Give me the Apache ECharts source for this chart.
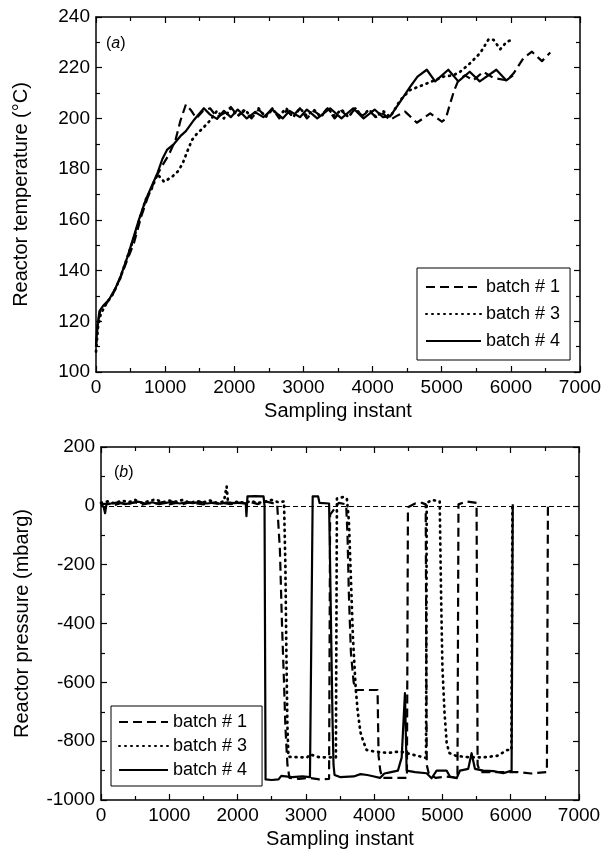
<!DOCTYPE html>
<html>
<head>
<meta charset="utf-8">
<script src="https://cdn.jsdelivr.net/npm/echarts@6/dist/echarts.min.js"></script>
<style>html,body{margin:0;padding:0;background:#fff}#c{width:603px;height:859px}</style>
</head>
<body>
<div id="c"></div>
<script>
// ---------- DATA: (a) Reactor temperature ----------
const tempB1X = [0,20,60,150,250,350,450,550,650,750,800,850,950,1050,1150,1220,1300,1380,1450,1550,1650,1750,1850,1950,2050,2150,2250,2350,2450,2550,2650,2750,2850,2950,3050,3150,3250,3350,3450,3550,3650,3750,3850,3950,4050,4150,4250,4350,4470,4640,4834,5003,5060,5123,5180,5240,5336,5457,5600,5747,5943,6040,6180,6305,6450,6570];
const tempB1Y = [110,118,124,127,131,137,144,151,161,169,172,176,181,185.5,191.5,199,205.5,203,200,203,204,200.5,202,204.5,201,203,200,203.5,201,204,200,203,201,204,200,203,201,204,200,203,200.5,204,201,203,200.5,202,199.4,201,202.7,198.3,202,198.7,200,206,211,215,217,215,218.4,216,215,217.8,223.7,226.3,222.6,226];

const tempB3X = [0,30,70,150,250,350,450,550,650,720,800,890,985,1100,1180,1250,1320,1390,1460,1540,1660,1750,1850,1950,2050,2150,2250,2350,2450,2550,2650,2750,2850,2950,3050,3150,3250,3350,3450,3550,3650,3750,3850,3950,4050,4150,4255,4400,4544,4785,5027,5166,5267,5412,5557,5678,5750,5847,5943,6040];
const tempB3Y = [108,118,123,127,131,137,145,153,162,168,172,178,175,177,179,182,187,191.6,194,196,199.5,203,200,204,201,203.5,200.5,204,200.5,203.5,201,204,200.5,204,201,203.5,200.5,204,201,203.5,200.5,204,201,203.5,200.5,203,200.6,207.2,211.2,213.8,216.5,217,218.4,221.8,225.8,231.2,231,227.3,230.3,231.2];

const tempB4X = [0,20,50,100,190,280,360,450,530,620,720,800,890,960,1030,1130,1220,1300,1420,1560,1650,1750,1850,1950,2050,2180,2300,2420,2550,2700,2800,2950,3050,3200,3386,3550,3720,3870,4030,4150,4255,4400,4545,4650,4784,4905,5095,5240,5405,5550,5790,5935,6030];
const tempB4Y = [110,118,124,126,128.6,133,138,145,152,160,168,173,178.5,184,187.7,190,193,195,199.5,204,201.5,199.8,203,200.5,203.5,200,202.5,200.5,203.5,200,203,200.5,203.5,200,204,200,204,200,203.5,200.5,200.8,206.6,212.5,216.5,219.2,214.6,219.2,214.6,218.4,214.6,219.2,215,217];

// ---------- DATA: (b) Reactor pressure ----------
const presB1X = [0,100,200,300,400,500,600,700,800,900,1000,1100,1200,1300,1400,1500,1600,1700,1800,1900,2000,2100,2200,2300,2400,2500,2580,2620,2650,2680,2700,2730,2760,2900,3050,3200,3340,3355,3420,3480,3590,3610,3630,3660,3700,3730,3900,4050,4065,4090,4120,4300,4480,4495,4600,4700,4755,4770,4800,4900,5050,5220,5235,5350,5500,5515,5550,5800,6100,6300,6530,6545];
const presB1Y = [5,8,3,10,6,12,4,9,7,13,5,10,6,12,8,5,11,7,9,6,10,8,12,6,15,10,5,-150,-400,-600,-750,-880,-925,-928,-925,-930,-928,-30,-10,10,5,-100,-300,-500,-600,-626,-626,-626,-850,-900,-925,-925,-925,-5,8,10,5,-880,-910,-925,-920,-925,5,15,10,-880,-905,-905,-905,-910,-905,0];

const presB3X = [0,100,200,300,400,500,600,700,800,900,1000,1100,1200,1300,1400,1500,1600,1700,1800,1840,1860,1900,2000,2100,2200,2300,2400,2500,2600,2680,2700,2715,2730,2745,2900,3020,3060,3200,3300,3440,3455,3550,3600,3630,3660,3690,3730,3760,3800,3840,3890,4000,4200,4378,4550,4760,4770,4850,4960,4980,5000,5030,5062,5100,5200,5400,5600,5800,5950,6010,6025];
const presB3Y = [10,15,8,18,12,20,10,16,22,12,18,14,20,10,16,12,18,10,15,66,12,8,14,10,16,10,14,20,12,15,-200,-500,-750,-853,-855,-855,-845,-855,-855,-855,25,30,25,-50,-250,-450,-620,-700,-770,-800,-830,-835,-840,-835,-845,-857,10,20,15,-300,-550,-700,-806,-840,-850,-855,-855,-850,-830,-830,5];

const presB4X = [0,40,60,80,150,250,350,450,550,650,750,850,950,1050,1150,1250,1350,1450,1550,1650,1750,1850,1950,2050,2120,2130,2145,2250,2380,2395,2410,2500,2600,2640,2800,2950,3060,3100,3180,3200,3340,3355,3375,3390,3405,3420,3500,3700,3800,3900,4000,4085,4150,4231,4348,4403,4451,4476,4600,4768,4841,4915,5061,5110,5208,5257,5378,5427,5476,5598,5750,5891,6013,6030];
const presB4Y = [5,-5,-25,5,8,12,6,10,14,8,12,6,10,14,8,12,9,14,8,11,7,12,9,11,8,-35,32,33,32,0,-930,-932,-930,-918,-922,-920,-922,32,32,10,8,-200,-500,-720,-880,-915,-922,-920,-912,-915,-920,-925,-910,-906,-900,-856,-637,-900,-905,-909,-926,-900,-900,-920,-926,-900,-894,-841,-894,-900,-902,-909,-900,5];

const seriesNames = ['batch # 1','batch # 3','batch # 4'];
const xTicks = {min:0, max:7000, interval:1000};
const tempTicks = {min:100, max:240, interval:20};
const presTicks = {min:-1000, max:200, interval:200};

// ---------- build ----------
const zip = (xs, ys) => xs.map((x, i) => [x, ys[i]]);
const FONT = 'Liberation Sans, Arial, sans-serif';
const styles = [
  {type:[9,5], width:2.2, cap:'butt'},
  {type:[1,5], width:2.7, cap:'round'},
  {type:'solid', width:2.2, cap:'butt'}
];

function mkAxis(kind, pos, grid, ticks, showLabel, extra) {
  return Object.assign({
    type:'value', gridIndex:grid, position:pos,
    min:ticks.min, max:ticks.max, interval:ticks.interval,
    axisLine:{show:true, onZero:false, lineStyle:{color:'#000', width:1.5}},
    axisTick:{show:true, inside:true, length:6, lineStyle:{color:'#000', width:1.2}},
    minorTick:{show:true, splitNumber:2, length:4, lineStyle:{color:'#000', width:1.2}},
    splitLine:{show:false},
    axisLabel:{show:showLabel, color:'#000', fontSize:19, fontFamily:FONT, margin:6,
      formatter:(v) => String(v)},
    nameTextStyle:{color:'#000', fontSize:20, fontFamily:FONT}
  }, extra || {});
}

const chart = echarts.init(document.getElementById('c'), null, {renderer:'canvas'});
const tempData = [zip(tempB1X,tempB1Y), zip(tempB3X,tempB3Y), zip(tempB4X,tempB4Y)];
const presData = [zip(presB1X,presB1Y), zip(presB3X,presB3Y), zip(presB4X,presB4Y)];

const series = [];
seriesNames.forEach((n, i) => {
  series.push({name:n, type:'line', xAxisIndex:0, yAxisIndex:0, data:tempData[i], symbol:'none', showSymbol:false, animation:false,
    itemStyle:{color:'#000'},
    lineStyle:{color:'#000', width:styles[i].width, type:styles[i].type, cap:styles[i].cap, join:'round'}, z:3-i});
});
seriesNames.forEach((n, i) => {
  const s = {name:n, type:'line', xAxisIndex:2, yAxisIndex:2, data:presData[i], symbol:'none', showSymbol:false, animation:false,
    itemStyle:{color:'#000'},
    lineStyle:{color:'#000', width:styles[i].width, type:styles[i].type, cap:styles[i].cap, join:'round'}, z:3-i};
  if (i === 0) s.markLine = {silent:true, symbol:'none', animation:false, label:{show:false},
    lineStyle:{color:'#000', width:1, type:[5,3]}, data:[{yAxis:0}]};
  series.push(s);
});

const legendBase = {
  orient:'vertical', data:seriesNames, borderColor:'#000', borderWidth:1, backgroundColor:'#fff',
  textStyle:{color:'#000', fontSize:18, fontFamily:FONT}, selectedMode:false,
  itemStyle:{opacity:0}
};

chart.setOption({
  animation:false,
  textStyle:{fontFamily:FONT},
  grid:[
    {left:96, top:17, width:484, height:355, outerBoundsMode:'none', containLabel:false},
    {left:101, top:447, width:478, height:353, outerBoundsMode:'none', containLabel:false}
  ],
  xAxis:[
    mkAxis('x','bottom',0,xTicks,true,{name:'Sampling instant', nameLocation:'middle', nameGap:29}),
    mkAxis('x','top',0,xTicks,false),
    mkAxis('x','bottom',1,xTicks,true,{name:'Sampling instant', nameLocation:'middle', nameGap:29}),
    mkAxis('x','top',1,xTicks,false)
  ],
  yAxis:[
    mkAxis('y','left',0,tempTicks,true,{name:'Reactor temperature (\u00B0C)', nameLocation:'middle', nameGap:65}),
    mkAxis('y','right',0,tempTicks,false),
    mkAxis('y','left',1,presTicks,true,{name:'Reactor pressure (mbarg)', nameLocation:'middle', nameGap:69}),
    mkAxis('y','right',1,presTicks,false)
  ],
  legend:[
    Object.assign({}, legendBase, {left:417, top:268, padding:[10,10,10,8], itemGap:9, itemWidth:55, itemHeight:14}),
    Object.assign({}, legendBase, {left:111, top:706, padding:[7,15,7,7], itemGap:6, itemWidth:49, itemHeight:14})
  ],
  graphic:[
    {type:'text', left:106, top:36, style:{text:'{n|(}{i|a}{n|)}', rich:{n:{fontSize:16, fontFamily:FONT, fill:'#000'}, i:{fontSize:16, fontFamily:FONT, fontStyle:'italic', fill:'#000'}}}},
    {type:'text', left:114, top:465, style:{text:'{n|(}{i|b}{n|)}', rich:{n:{fontSize:16, fontFamily:FONT, fill:'#000'}, i:{fontSize:16, fontFamily:FONT, fontStyle:'italic', fill:'#000'}}}}
  ],
  series:series
});
</script>
</body>
</html>
